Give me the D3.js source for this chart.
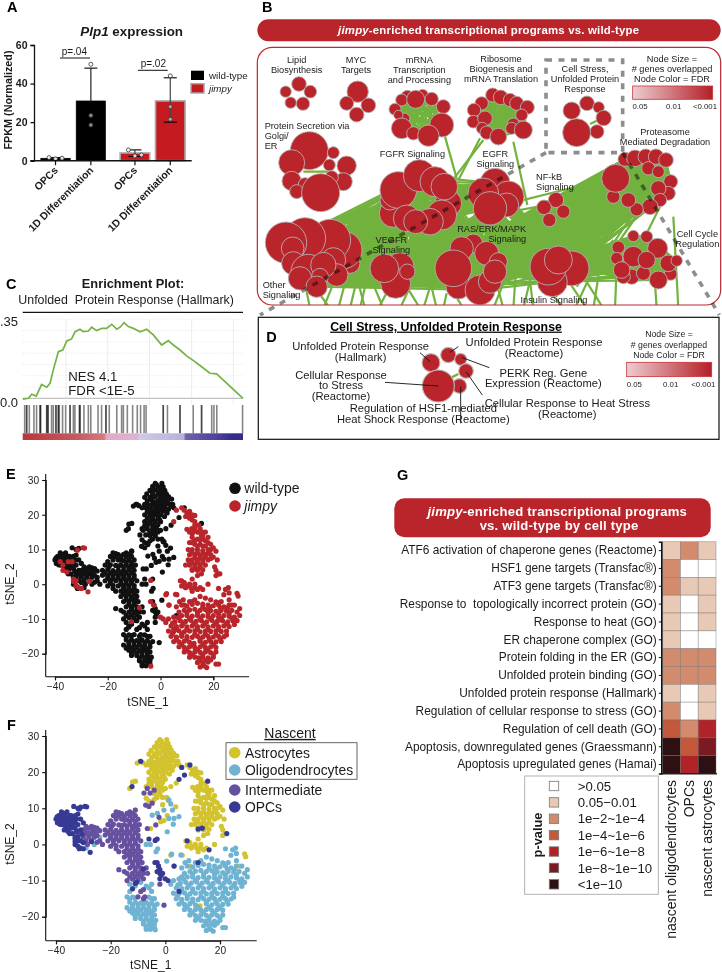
<!DOCTYPE html>
<html>
<head>
<meta charset="utf-8">
<script src="https://cdn.jsdelivr.net/npm/d3@7"></script>
<style>
  html, body { margin: 0; padding: 0; background: #fff; }
  svg { display: block; }
  text { font-family: "Liberation Sans", Arial, sans-serif; fill: #1a1a1a; white-space: pre; }
  .axis path, .axis line { stroke: #111; }
</style>
</head>
<body>
<div id="chart"></div>
<script>
// ---------- A: Plp1 bars ----------
const genotypes = ['wild-type', 'jimpy'];
const conditions = ['OPCs', '1D Differentiation'];
const fpkmMeans = [[1.3, 31], [4, 31]];
const fpkmErrLow = [[1, 31], [2.2, 20]];
const fpkmErrHigh = [[1.6, 48], [5.6, 43]];
const fpkmDots = [[[1.6, 1, 1.3], [50, 23.5, 18.5]], [[5.6, 2.5, 3], [44, 28, 21.5]]];

// ---------- C: enrichment curve ----------
const esRank = [0, 2.6, 4.1, 6.1, 8.6, 10.9, 12.4, 13.9, 16.2, 18.2, 20, 22.2, 23.8, 26, 27.5, 29.8, 31.3, 33.6, 35.9, 38.1, 40.4, 42.7, 44.2, 46, 48, 50.2, 53.3, 56.3, 59.3, 63.1, 66.1, 68.4, 71.4, 74.4, 77.5, 81.2, 85, 88, 91.1, 95.6, 100];
const esValue = [-0.004, 0, 0.018, 0.01, 0.061, 0.049, 0.066, 0.126, 0.207, 0.214, 0.254, 0.263, 0.295, 0.306, 0.295, 0.298, 0.315, 0.3, 0.31, 0.31, 0.328, 0.306, 0.315, 0.335, 0.318, 0.31, 0.295, 0.306, 0.281, 0.236, 0.256, 0.236, 0.214, 0.188, 0.167, 0.14, 0.111, 0.108, 0.081, 0.04, 0];
const rugRanks = [0.9, 1.8, 1.8, 3, 5.1, 6.3, 7.9, 7.9, 8.2, 10.9, 10.9, 11.5, 11.5, 13.1, 13.9, 15.1, 15.1, 16.2, 16.2, 16.6, 18.1, 19.5, 21.5, 21.5, 23, 23.7, 25.7, 26, 26, 27.8, 29.8, 30.9, 34.2, 35.8, 37.8, 37.8, 39.3, 42.7, 44.9, 45.7, 47.5, 49.9, 52, 53.5, 55.1, 56, 63.8, 63.8, 65.7, 71.4, 71.4, 77.4, 81.2, 81.2, 85.8, 86.8, 88.1, 99.8];
const esGridRanks = [19.7, 38.6, 57.6, 76.7, 95.6];
const rankStops = [0, 12, 25, 37, 38, 52, 53, 73, 74, 90, 95, 100];
const rankColors = ['#b8363c', '#c0474d', '#c55a60', '#d57c7d', '#e2a9c6', '#dfb2d2', '#d0c9e8', '#b9b0d9', '#6e63ae', '#473b98', '#352b8d', '#352b8d'];

// ---------- B: network map, [x, y, size] ----------
const nodesLipid = [[147, 252, 22], [107, 275, 17], [181, 275, 19], [122, 308, 17], [159, 311, 20]];
const nodesMyc = [[323, 275, 32], [290, 310, 21], [355, 316, 22], [320, 344, 22]];
const nodesMrna = [[472, 290, 19], [455, 300, 18], [518, 285, 17], [545, 297, 20], [497, 298, 27], [435, 328, 18], [580, 320, 21], [462, 357, 18], [445, 345, 14], [575, 375, 36], [455, 385, 31], [490, 400, 20], [535, 407, 32]];
const nodesRibosome = [[728, 285, 21], [752, 292, 22], [695, 310, 20], [672, 330, 20], [780, 300, 20], [800, 310, 21], [832, 322, 21], [815, 345, 18], [670, 365, 19], [705, 355, 22], [697, 385, 18], [710, 398, 20], [745, 410, 25], [790, 372, 18], [785, 385, 18], [820, 390, 27]];
const nodesStress = [[1011, 310, 22], [965, 332, 26], [1046, 322, 17], [1061, 354, 23], [1041, 395, 21], [980, 398, 42]];
const nodesSecretion = [[178, 452, 57], [250, 458, 18], [125, 488, 39], [290, 497, 29], [238, 495, 18], [280, 545, 27], [125, 543, 29], [165, 553, 20], [245, 532, 20], [140, 575, 21], [212, 578, 57]];
const nodesFgfr = [[430, 640, 42], [420, 600, 30], [445, 570, 55], [508, 527, 48], [555, 545, 45], [595, 610, 40], [575, 645, 45], [470, 655, 40], [540, 665, 40], [497, 665, 36], [583, 560, 40]];
const nodesEgfr = [[735, 550, 45], [775, 590, 47], [700, 580, 46], [770, 615, 36], [720, 625, 50]];
const nodesNfkb = [[918, 600, 23], [882, 622, 22], [940, 635, 20], [898, 660, 20]];
const nodesProteasome = [[1125, 478, 21], [1155, 475, 25], [1187, 470, 23], [1218, 470, 23], [1248, 480, 22], [1195, 505, 20], [1225, 515, 18], [1262, 545, 21], [1255, 580, 21], [1225, 565, 23], [1230, 600, 20], [1200, 620, 24], [1160, 628, 20], [1135, 600, 22], [1090, 590, 20], [1097, 535, 42]];
const nodesCycle = [[1150, 708, 17], [1190, 710, 18], [1105, 742, 19], [1100, 775, 18], [1262, 822, 19], [1255, 790, 25], [1280, 782, 17], [1150, 770, 31], [1145, 830, 23], [1180, 820, 21], [1225, 840, 27], [1120, 830, 21], [1115, 810, 25], [1223, 745, 30], [1190, 780, 26]];
const nodesOther = [[300, 790, 30], [280, 750, 56], [240, 720, 62], [165, 715, 62], [108, 728, 62], [128, 745, 34], [250, 780, 37], [260, 825, 34], [130, 790, 35], [175, 815, 52], [220, 795, 38], [150, 835, 35], [210, 830, 25], [200, 860, 32]];
const nodesVegfr = [[450, 800, 42], [437, 850, 45], [403, 805, 43], [472, 815, 23]];
const nodesRas = [[670, 730, 28], [635, 745, 35], [710, 760, 36], [745, 785, 27], [625, 860, 37], [690, 870, 45], [720, 845, 35], [735, 815, 35], [610, 805, 55]];
const nodesInsulin = [[965, 805, 52], [907, 845, 45], [895, 800, 55], [925, 780, 42]];

const mapClusters = { Lipid: nodesLipid, Myc: nodesMyc, Mrna: nodesMrna, Ribosome: nodesRibosome, Stress: nodesStress, Secretion: nodesSecretion, Fgfr: nodesFgfr, Egfr: nodesEgfr, Nfkb: nodesNfkb, Proteasome: nodesProteasome, Cycle: nodesCycle, Other: nodesOther, Vegfr: nodesVegfr, Ras: nodesRas, Insulin: nodesInsulin };
const clusterLinks = [['Fgfr', 'Other'], ['Fgfr', 'Vegfr'], ['Fgfr', 'Ras'], ['Fgfr', 'Egfr'], ['Egfr', 'Ras'], ['Egfr', 'Vegfr'], ['Egfr', 'Insulin'], ['Other', 'Vegfr'], ['Vegfr', 'Ras'], ['Ras', 'Insulin'], ['Other', 'Ras'], ['Proteasome', 'Insulin'], ['Proteasome', 'Ras'], ['Nfkb', 'Proteasome'], ['Nfkb', 'Ras'], ['Nfkb', 'Insulin'], ['Insulin', 'Cycle']];
const ringClusters = ['Mrna', 'Ribosome', 'Fgfr', 'Egfr', 'Proteasome', 'Cycle', 'Other', 'Vegfr', 'Ras', 'Insulin'];
const singleEdges = [[585, 410, 620, 535], [700, 420, 612, 535], [690, 415, 625, 540], [790, 425, 832, 615], [160, 515, 240, 515], [1020, 372, 1045, 360], [720, 625, 1060, 540], [760, 640, 1070, 580], [1270, 650, 1285, 925], [1215, 850, 1220, 925], [1100, 800, 1095, 925], [1180, 620, 1110, 720], [1230, 620, 1180, 720], [1090, 610, 960, 760], [1100, 620, 985, 770], [1125, 630, 1000, 800], [1150, 640, 1030, 820], [950, 650, 1000, 770], [980, 860, 1090, 720]];
const bottomEdges = [[165, 850, 180, 925], [200, 870, 240, 925], [250, 850, 220, 925], [290, 830, 265, 925], [310, 790, 345, 925], [330, 800, 300, 925], [360, 830, 400, 925], [350, 840, 330, 925], [420, 860, 385, 925], [470, 860, 510, 925], [490, 840, 450, 925], [530, 800, 560, 925], [550, 830, 520, 925], [590, 880, 580, 925], [600, 860, 640, 925], [740, 850, 760, 925], [760, 850, 730, 925], [800, 780, 790, 925], [830, 760, 850, 925], [850, 800, 820, 925], [905, 880, 940, 925], [960, 850, 1010, 925], [1000, 830, 1060, 925], [1010, 850, 975, 925], [1050, 800, 1030, 925]];

// ---------- D: cell stress close-up ----------
const nodesDetail = [[543, 188, 27], [595, 165, 23], [632, 178, 18], [648, 213, 22], [628, 258, 22], [565, 258, 48]];
const detailLeaders = [[510, 158, 540, 185], [625, 140, 600, 157], [718, 203, 637, 173], [405, 247, 565, 258], [697, 285, 648, 215], [632, 260, 632, 370]];

// ---------- E / F: tSNE points, split by cell type and genotype ----------
const wtAstro = [[-2, 29], [0.5, 29], [1, 28], [-3, 28.2], [-1, 28], [-4, 27], [-2, 27.1], [0, 26.8], [1.6, 27], [-3, 26], [-1, 25.9], [0.5, 26], [2.2, 26], [-5.2, 26], [-4, 25], [-2, 25.1], [0, 24.9], [1.5, 25], [3, 25.2], [-5, 24], [-3, 23.9], [-1, 24], [1, 24.1], [2.6, 24], [4.2, 24.5], [4.6, 23], [-6, 25], [-5, 23], [-3, 22.9], [-1, 23], [0.5, 22.9], [2, 23], [3.6, 23], [-9.3, 23], [-10.3, 22.5], [-7, 22], [-4, 22], [-2, 22.1], [0, 21.9], [1.6, 22], [3, 21.6], [5, 22], [-5, 21], [-3, 20.9], [-1, 21], [1, 21], [2.5, 20.5], [-6, 20], [-4, 20], [-2, 20.1], [0, 20], [-5, 19], [-3, 18.9], [-1, 19], [1.5, 19.5], [-6, 18], [-4, 18.1], [-2, 18], [0, 18], [-5, 17], [-3, 17], [-1, 17.1], [-7, 16], [-5, 16], [-3, 16], [-1.5, 16], [-12, 17.3], [-10.9, 17.5], [-13, 15.5], [-2, 15], [0, 15.5], [2, 16], [4, 17], [-4, 14], [-2, 14], [-3, 13], [-1, 13], [0.5, 13], [1, 12.2], [-4.8, 11.8], [-6, 12], [-10.9, 9.5], [3.8, 10.4], [0.7, 8], [-1.7, 6.3], [-0.5, 6.6], [-5.4, 4.4], [-4, 12.5], [-7, 12.8], [-1, 11]];
const wtAstroFill = [[-1.5, 28.6], [-2.8, 25.5], [-0.6, 26.6], [1, 25.6], [-3.6, 24.5], [-1.8, 23.5], [0, 23.6], [2.8, 24.6], [-4, 22.6], [-2.4, 21.5], [0.4, 21.4], [2.2, 21.2], [-4.2, 20.6], [-1.2, 20], [-3.2, 19.5], [-0.4, 18.6], [-4.6, 17.6], [-2.4, 16.6], [-6, 16.8], [-8.2, 22.6], [-6, 23], [4, 22.5], [-2.9, 14.6], [-1, 15], [-3.6, 18.4], [-0.6, 22.3], [1.2, 23], [-5.6, 22], [-3, 27.4], [0.2, 27.8]];
const koAstro = [[8, 22], [9, 21.3], [10, 20.5], [11, 21], [12, 20], [13, 19.8], [9.5, 19.5], [11, 19], [12, 18.5], [13, 18], [14.5, 17], [10, 15.8], [11, 15], [12, 14.5], [13, 16], [14, 15], [15, 16], [16, 15], [17, 15], [15.5, 14], [12, 13.5], [14, 13], [16, 13], [18, 13.5], [17, 12.5], [11, 12], [13, 11.5], [15, 11.5], [17, 11], [19, 11.5], [20, 10.5], [10.5, 10], [12, 10], [14, 10], [16, 9.7], [18, 10], [21, 9.5], [11, 8.5], [13, 8.5], [15, 8.3], [17, 8.5], [19, 8.5], [20, 7.8], [10.5, 7], [12, 7], [14, 7], [16, 7], [18, 7], [9.5, 5.5], [11, 5.5], [13, 5.5], [15, 5.5], [17, 5.5], [12, 4], [14, 4], [16, 4.2], [20.5, 5], [21, 4], [21, 2.5], [22, 3], [14, 2.5], [15.5, 3], [7.5, 1], [12, 1.5], [8, -0.5], [9, 0.5], [10, -0.5], [11, 0], [11.5, -1], [12, -2], [13, -1], [14, -1.5], [15, -1], [18, 0], [2, -3], [6.2, -3], [9, -6], [21.5, -5.3], [18.4, -7], [12.7, -17], [29.4, -3.4], [29, -2.6], [27, -6]];
const koAstroFill = [[10.6, 20], [11.6, 19.6], [13, 17], [11.8, 16], [12.5, 15.2], [14.8, 15], [16, 14], [13, 12.6], [15, 12.8], [12, 12], [14, 11], [16, 11], [18, 12], [12, 9], [14, 9], [16, 8.8], [18, 9], [13, 7.6], [15, 7.6], [17, 7.8], [19, 7.4], [12, 6.2], [14, 6.2], [16, 6.2], [11, 6.5], [13, 4.8], [15, 4.8], [19, 10], [21.5, 7], [9.5, -1], [13, 0]];
const wtOligo = [[1.3, 12.3], [2, 11.2], [2.6, 9.5], [-0.5, 9.5], [-4.8, 8.1], [-2.9, 8.6], [5, 7.7], [3.2, 7.2], [1.3, 7.2], [2.9, 5.6], [0.7, 3.5], [0.5, -4.6], [-7, 0], [-5.5, 0], [-3.4, -2], [-2.8, -1.2], [6, -9], [-13, -11], [-11, -11.5], [-7, -11.5], [-5, -11], [-13, -13], [-5, -13], [-14, -14.5], [-12, -14.6], [-6, -14.6], [-4, -15], [-13, -16], [-11, -16], [-9, -16.2], [-7, -16], [-5, -16.2], [-3, -16.5], [-14, -17.5], [-12, -17.6], [-10, -17.5], [-8, -17.4], [-6, -17.6], [-4, -18], [-12, -19], [-10, -19], [-8, -19.2], [-6, -19], [-4, -19.5], [-11, -20.5], [-9, -20.5], [-7, -20.6], [-5, -20.8], [-8, -22], [-6, -22], [-4, -22], [-7, -23.5], [-5.5, -23.5], [-4, -23], [-3.5, -21], [-9, -10.5], [-32, -0.5], [-29, -1], [-26, 0], [-24, 2]];
const wtOligoFill = [[-12, -12.2], [-6, -12], [-13, -15.2], [-11, -14.8], [-5, -15], [-12, -16.8], [-10, -16.6], [-8, -16.4], [-6, -16.8], [-4, -17], [-13, -18.4], [-11, -18.4], [-9, -18.2], [-7, -18.3], [-5, -18.6], [-11, -19.8], [-9, -19.9], [-7, -19.7], [-5, -20], [-8, -21.2], [-6, -21.2], [-4.5, -21.6], [-7, -22.8], [-5, -22.8]];
const koOligo = [[15, -3.5], [17, -4], [13, -4.5], [19, -4.5], [24, -3], [26, -2.5], [24.6, -1.5], [25.7, -1], [22, -1.2], [26, -4.5], [23, -5], [21, -5.1], [7.2, -5], [5.7, -2.9], [2.3, -2.7], [3.2, -6], [6, -6.5], [8, -6], [10, -6.3], [12, -5.8], [14, -5.5], [16, -5.7], [18, -6], [20, -6.2], [22, -6], [24, -6.5], [26, -6], [28, -6], [30, -7], [7, -8], [9, -7.5], [11, -7.4], [13, -7.2], [15, -7.5], [17, -7.3], [19, -7.6], [21, -7.8], [23, -7.5], [25, -7.7], [27, -7.5], [29, -8], [30, -9], [5, -9.5], [8, -9], [10, -9], [12, -9.2], [14, -9], [16, -9.1], [18, -9.3], [20, -9], [22, -9.4], [24, -9], [26, -9.2], [28, -9.5], [3, -10], [5.5, -10.8], [7.5, -10.5], [9.5, -10.7], [11.5, -10.4], [13.5, -10.7], [15.5, -10.5], [17.5, -10.8], [19.5, -10.4], [21.5, -10.7], [23.5, -10.5], [25.5, -10.8], [27.5, -10.6], [29, -10.5], [2, -11], [4, -12], [6, -12.2], [8, -12], [10, -12.3], [12, -12], [14, -12.2], [16, -12], [18, -12.3], [20, -12], [22, -12.2], [24, -12], [26, -12.2], [3, -13.5], [5, -13.6], [7, -13.4], [9, -13.7], [11, -13.5], [13, -13.4], [15, -13.7], [17, -13.5], [19, -13.6], [21, -13.4], [23, -13.6], [25, -13.5], [4, -15], [6, -15.2], [8, -15], [10, -15.1], [12, -15.3], [14, -15], [16, -15.2], [18, -15], [20, -15.2], [22, -15], [24, -15.1], [5, -16.5], [7, -16.6], [9, -16.4], [11, -16.7], [15, -16.4], [17, -16.7], [19, -16.5], [21, -16.6], [23, -16.5], [7, -18], [9, -18.2], [11, -18], [13, -18.2], [15, -18], [17, -18.2], [19, -18], [21, -18.2], [9, -19.5], [11, -19.7], [13, -19.5], [15, -19.6], [17, -19.5], [19, -19.7], [21, -19.5], [11, -21], [13, -21], [14.5, -21.2], [16, -21], [18, -21.2], [20, -21], [14, -22.5], [16, -22.6], [18, -22.4], [21, -23], [22, -23], [15, -23.8], [17.5, -24], [-3.7, -23.6]];
const koOligoFill = [[8.6, -4.5], [11, -5], [16, -6.6], [18.6, -6.6], [22.7, -6.9], [25.4, -6.8], [10, -8.2], [14, -8.2], [18, -8.3], [22, -8.4], [26, -8.4], [6.6, -9.6], [11, -9.9], [15, -9.9], [19, -9.9], [23, -10], [27, -9.8], [4.6, -11.2], [8.6, -11.3], [12.6, -11.4], [16.7, -11.4], [20.8, -11.3], [25, -11.4], [28, -11.6], [6, -13], [10, -13], [14, -13], [18, -13], [22, -13], [4.5, -14.3], [8, -14.3], [13, -14.4], [17, -14.4], [21, -14.4], [25, -14.6], [6, -15.9], [10, -15.8], [15, -15.9], [18.5, -15.9], [22.6, -15.8], [8, -17.3], [12, -17.4], [16, -17.4], [20, -17.4], [10, -18.9], [14, -18.8], [18, -18.9], [12, -20.3], [16, -20.3], [20, -20.3], [15, -22], [17, -22], [19, -21.8], [16.5, -23.5]];
const wtInter = [[-18, 9], [-16, 8.5], [-11, 9.5], [-13, 9], [-19, 8], [-17, 8], [-15, 7.8], [-13, 8], [-11, 8], [-20, 6.5], [-18, 7], [-16, 7], [-14, 6.8], [-12, 7], [-10, 7], [-21, 5.5], [-19, 5.6], [-17, 5.4], [-15, 5.5], [-13, 5.6], [-11, 5.5], [-9.5, 5.5], [-22, 4], [-20, 4.2], [-18, 3.9], [-16, 4.1], [-14, 4], [-12, 4.2], [-10, 4], [-22, 2.6], [-20, 2.5], [-18, 2.4], [-16, 2.6], [-14, 2.5], [-12, 2.4], [-10, 2.6], [-21, 1], [-19, 1.1], [-17, 1], [-15, 0.9], [-13, 1], [-11, 1.1], [-9, 1], [-20, -0.5], [-18, -0.3], [-16, -0.5], [-14, -0.4], [-12, -0.5], [-10, -0.4], [-17, -2], [-15, -2], [-13, -2], [-11, -1.9], [-9, -2], [-15, -3.5], [-13, -3.4], [-11, -3.6], [-9, -3.5], [-14, -5], [-12, -5], [-10, -5.1], [-8.5, -5], [-13, -6.5], [-11, -6.6], [-9, -6.5], [-7, -6.5], [-17, -7], [-15, -7.5], [-14, -8], [-12, -8], [-10, -8.2], [-8, -8], [-6.5, -8], [-14, -10], [-12, -9.6], [-10, -9.8], [-8, -9.5], [-9, -13], [-7.5, -14.5], [-10, -14.5], [-8, -15], [-6.6, 15.5], [-7.8, 14.2], [-5.6, 14.2], [-4.1, 15], [-6, 10.5], [-7.2, 10.9], [-2.3, 7.5], [-6.6, 4.4], [-3.5, 5.4], [-4.8, 11.4], [-30, 4], [-29, 5], [-28, 4.5], [-27, 5], [-26, 4.7], [-25, 4.5], [-29, 3], [-28, 2], [-27, 3], [-26, 2], [-30, 2], [-29, 1], [-27, 1], [-25, 2.5], [-24, 1], [-23, 0], [-8, -12.5], [-2, -11], [-0.5, -16.8]];
const wtInterFill = [[-17, 8.8], [-14, 8.6], [-12, 8.5], [-18, 7.6], [-15, 6.9], [-13, 6.4], [-11, 6.4], [-19.6, 5], [-16, 5.2], [-14, 5], [-12, 4.9], [-10.5, 4.8], [-21, 3.3], [-19, 3.2], [-17, 3.2], [-15, 3.2], [-13, 3.3], [-11, 3.3], [-20, 1.8], [-18, 1.7], [-16, 1.8], [-14, 1.7], [-12, 1.7], [-10, 1.8], [-19, 0.3], [-15, 0.2], [-13, 0.2], [-11, 0.3], [-18, -1.2], [-14, -1.2], [-12, -1.1], [-10, -1.2], [-14, -2.8], [-12, -2.7], [-10, -2.8], [-13, -4.3], [-11, -4.3], [-9.5, -4.3], [-12, -5.8], [-10, -5.8], [-11, -7.3], [-9, -7.4], [-13, -9], [-11, -8.9], [-9, -8.8], [-32, 3], [-29.5, 4], [-28, 3.2], [-26.5, 3.8], [-25.6, 3.3], [-24, 3.8], [-28.5, 0], [-25, 0.6]];
const wtOpc = [[-40, 7], [-39.5, 6], [-39, 8], [-38.5, 6.5], [-38, 9], [-38, 5.5], [-37.5, 7.5], [-37, 6], [-37, 8.5], [-36.5, 5], [-36, 7], [-36, 9], [-35, 6], [-35, 8], [-34.5, 4.5], [-34, 7], [-39, 7], [-38, 7], [-33, 6], [-33, 8], [-33, 4.5], [-32, 10], [-33.5, 10.5], [-31, 10.3], [-32, 5.5], [-31, 7], [-31, 4], [-30, 6], [-34, 3], [-32, 2], [-36, 4], [-31, 1], [-33, 0], [-30, 0.5], [-3, -5], [-2.5, -6], [-2, -7], [-2, -8], [-1.5, -8.5], [-1, -8], [-3, -7.5], [-10.5, -10.5], [-12, -12.3], [-12.2, 16], [-9, 23], [-6, 1.5], [-3, 1.5], [-2, -9.5], [9, 22], [7, 19.2], [15.5, 17.5]];
const wtOpcFill = [[-39.6, 7.6], [-38.6, 7.6], [-38.6, 5.6], [-37.6, 8.6], [-37.6, 6.6], [-36.6, 7.8], [-36.5, 6], [-35.6, 7], [-35.5, 5], [-34.5, 8], [-34.5, 6], [-34, 5], [-33.5, 7.2], [-32.5, 7], [-32, 8.4], [-32.5, 3.6], [-35, 3], [-33, 2], [-30.5, 2.8], [-31.5, -1.2]];
const koOpc = [[-29.4, 10.5], [-28.8, 10.4], [-38, 6.5], [-37, 5.5], [-35, 6.5], [-33.5, 6.5], [-37, 4], [-35.5, 3.5], [-33, 1.5], [-32, 1], [-32, -0.5], [-31, -1], [-30, -1.2], [-27.5, -2.2], [-27, 0.8], [-33, 0.8], [-31.5, 9.8], [-3.7, 1.1], [-3.8, -5], [-2.5, -6], [-8, -6.8], [-11, -10.8], [5, 18], [6, 21.3], [3.2, -6], [12, 4.3], [13.5, 4.5], [8, 1], [16, -1.5], [22.5, 3], [12, -5], [5, -13], [1, -10], [0, -9.5]];

const eLegend = ['wild-type', 'jimpy'];
const fLegend = ['Astrocytes', 'Oligodendrocytes', 'Intermediate', 'OPCs'];
const tsneTicksX = [-40, -20, 0, 20];
const tsneTicksY = [-20, -10, 0, 10, 20, 30];

// ---------- G: heatmap ----------
const programs = ['ATF6 activation of chaperone genes (Reactome)', 'HSF1 gene targets (Transfac®)', 'ATF3 gene targets (Transfac®)', 'Response to  topologically incorrect protein (GO)', 'Response to heat (GO)', 'ER chaperone complex (GO)', 'Protein folding in the ER (GO)', 'Unfolded protein binding (GO)', 'Unfolded protein response (Hallmark)', 'Regulation of cellular response to stress (GO)', 'Regulation of cell death (GO)', 'Apoptosis, downregulated genes (Graessmann)', 'Apoptosis upregulated genes (Hamai)'];
const cellTypes = ['nascent oligodendrocytes', 'OPCs', 'nascent astrocytes'];
const pLevels = [[1, 2, 1], [2, 0, 0], [2, 1, 1], [1, 0, 1], [1, 0, 1], [1, 0, 0], [2, 2, 2], [2, 2, 2], [1, 0, 1], [2, 0, 1], [3, 2, 4], [6, 3, 5], [6, 4, 6]];
const pLabels = ['>0.05', '0.05−0.01', '1e−2~1e−4', '1e−4~1e−6', '1e−6~1e−8', '1e−8~1e−10', '<1e−10'];
const pColors = ['#ffffff', '#e8c9b5', '#d38b6d', '#c4583a', '#b02329', '#7b1a20', '#2e1013'];

const RED = '#b9252b';
const svg = d3.select('#chart').append('svg').attr('width', 722).attr('height', 972);

// plain text helper, lines are stacked from y down
function txt(parent, lines, x, y, size, opts = {}) {
    const list = Array.isArray(lines) ? lines : [lines];
    const step = opts.step || size * 1.15;
    const t = parent.append('g');
    list.forEach((line, i) => {
        t.append('text')
            .attr('x', x).attr('y', y + i * step).attr('dy', '.35em')
            .attr('text-anchor', opts.anchor || 'middle')
            .attr('font-size', size)
            .attr('font-weight', opts.bold ? 'bold' : null)
            .attr('font-style', opts.italic ? 'italic' : null)
            .attr('text-decoration', opts.underline ? 'underline' : null)
            .style('fill', opts.color || null)
            .text(line);
    });
    return t;
}

function panelLetter(letter, x, y) {
    txt(svg, letter, x, y, 14.5, { bold: true, anchor: 'start', color: '#000' });
}

function styleAxis(sel, width) {
    sel.attr('class', 'axis');
    sel.selectAll('path, line').attr('stroke-width', width).attr('stroke', '#111');
}

// ---------- Panel A ----------
panelLetter('A', 7, 7);
const aY = d3.scaleLinear().domain([0, 60]).range([160.7, 45]);
const aGroup = d3.scalePoint().domain(genotypes).range([73.2, 152.6]);
const aBar = d3.scaleBand().domain(conditions).range([-34.2, 34.2]).paddingInner(0.165).paddingOuter(0.05);
const aFill = d3.scaleOrdinal().domain(genotypes).range(['#000000', '#c51a20']);
const aStroke = d3.scaleOrdinal().domain(genotypes).range(['#000000', '#a8a8a8']);

const aTitle = svg.append('text').attr('x', 131.7).attr('y', 36).attr('text-anchor', 'middle').attr('font-size', 13.4).attr('font-weight', 'bold');
aTitle.append('tspan').attr('font-style', 'italic').text('Plp1');
aTitle.append('tspan').text(' expression');

genotypes.forEach((geno, gi) => {
    conditions.forEach((cond, ci) => {
        const x0 = aGroup(geno) + aBar(cond);
        const w = aBar.bandwidth();
        const cx = x0 + w / 2;
        svg.append('rect').attr('x', x0).attr('y', aY(fpkmMeans[gi][ci])).attr('width', w)
            .attr('height', aY(0) - aY(fpkmMeans[gi][ci]))
            .attr('fill', aFill(geno)).attr('stroke', aStroke(geno)).attr('stroke-width', gi ? 1.6 : 0.5);
        const hi = aY(fpkmErrHigh[gi][ci]);
        const lo = aY(fpkmErrLow[gi][ci]);
        const errColor = gi ? '#444' : '#222';
        svg.append('line').attr('x1', cx).attr('x2', cx).attr('y1', hi).attr('y2', lo).attr('stroke', errColor).attr('stroke-width', 1.2);
        svg.append('line').attr('x1', cx - 6.5).attr('x2', cx + 6.5).attr('y1', hi).attr('y2', hi).attr('stroke', '#000').attr('stroke-width', 1.1);
        if (gi) svg.append('line').attr('x1', cx - 6.5).attr('x2', cx + 6.5).attr('y1', lo).attr('y2', lo).attr('stroke', '#000').attr('stroke-width', 1.1);
        fpkmDots[gi][ci].forEach((v, di) => {
            const spread = ci === 0 ? [-6.5, 0, 6.5][di] : 0;
            svg.append('circle').attr('cx', cx + spread).attr('cy', aY(v)).attr('r', 2)
                .attr('fill', '#fff').attr('fill-opacity', v < 30 && ci === 1 ? 0.55 : 0.85).attr('stroke', '#333').attr('stroke-width', 0.8);
        });
    });
});
const aAxisY = svg.append('g').attr('transform', 'translate(34,0)').call(d3.axisLeft(aY).tickValues([0, 20, 40, 60]).tickSize(3.5));
styleAxis(aAxisY, 1.3);
aAxisY.selectAll('text').attr('font-size', 10.5).attr('font-weight', 'bold').attr('font-family', 'Liberation Sans');
svg.append('line').attr('x1', 30.5).attr('x2', 191.7).attr('y1', aY(0)).attr('y2', aY(0)).attr('stroke', '#111').attr('stroke-width', 1.4);
genotypes.forEach(geno => conditions.forEach(cond => {
    const cx = aGroup(geno) + aBar(cond) + aBar.bandwidth() / 2;
    svg.append('line').attr('x1', cx).attr('x2', cx).attr('y1', aY(0)).attr('y2', aY(0) + 4.5).attr('stroke', '#111').attr('stroke-width', 1.2);
    svg.append('text').attr('transform', `translate(${cx + 3},171) rotate(-45)`).attr('text-anchor', 'end')
        .attr('font-size', 10.4).attr('font-weight', 'bold').text(cond);
}));
svg.append('text').attr('transform', 'translate(8,100) rotate(-90)').attr('text-anchor', 'middle').attr('dy', '.35em')
    .attr('font-size', 10.8).attr('font-weight', 'bold').text('FPKM (Normalized)');
txt(svg, 'p=.04', 74.3, 51.5, 10);
svg.append('line').attr('x1', 60).attr('x2', 90).attr('y1', 58).attr('y2', 58).attr('stroke', '#111');
txt(svg, 'p=.02', 153.3, 63.5, 10);
svg.append('line').attr('x1', 138).attr('x2', 167.7).attr('y1', 70.3).attr('y2', 70.3).attr('stroke', '#111');
genotypes.forEach((geno, i) => {
    const y = 70.7 + i * 13;
    svg.append('rect').attr('x', 191).attr('y', y).attr('width', 13).attr('height', 9.3)
        .attr('fill', aFill(geno)).attr('stroke', aStroke(geno)).attr('stroke-width', i ? 1.5 : 0);
    txt(svg, geno, 209, y + 5, 9.8, { anchor: 'start', italic: i === 1 });
});

// ---------- Panel B: network map ----------
panelLetter('B', 262, 7);
const mapX = d3.scaleLinear().domain([0, 1416]).range([250, 722]);
const mapY = d3.scaleLinear().domain([0, 930]).range([0, 310]);
const mapR = d3.scaleLinear().domain([0, 100]).range([0, 33.33]);

svg.append('rect').attr('x', mapX(22)).attr('y', mapY(58)).attr('width', mapX(1412) - mapX(22)).attr('height', mapY(124) - mapY(58))
    .attr('rx', 11).attr('fill', RED);
const bHead = svg.append('text').attr('x', mapX(716)).attr('y', mapY(90)).attr('dy', '.35em').attr('text-anchor', 'middle')
    .attr('font-size', 11.4).attr('font-weight', 'bold').attr('letter-spacing', 0.2).style('fill', '#fff');
bHead.append('tspan').attr('font-style', 'italic').text('jimpy');
bHead.append('tspan').text('-enriched transcriptional programs vs. wild-type');

svg.append('clipPath').attr('id', 'mapClip').append('rect')
    .attr('x', mapX(22)).attr('y', mapY(142)).attr('width', mapX(1412) - mapX(22)).attr('height', mapY(915) - mapY(142)).attr('rx', 15);

const mapG = svg.append('g').attr('clip-path', 'url(#mapClip)');
const edgeG = mapG.append('g').attr('stroke', '#72b23e').attr('stroke-width', 2.2);

function drawEdge(x1, y1, x2, y2) {
    edgeG.append('line').attr('x1', mapX(x1)).attr('y1', mapY(y1)).attr('x2', mapX(x2)).attr('y2', mapY(y2));
}
clusterLinks.forEach(([a, b]) => {
    mapClusters[a].forEach(n => mapClusters[b].forEach(m => drawEdge(n[0], n[1], m[0], m[1])));
});
ringClusters.forEach(name => {
    mapClusters[name].forEach((n, i) => mapClusters[name].slice(i + 1).forEach(m => drawEdge(n[0], n[1], m[0], m[1])));
});
singleEdges.concat(bottomEdges).forEach(e => drawEdge(e[0], e[1], e[2], e[3]));

Object.values(mapClusters).forEach(nodes => {
    mapG.append('g').selectAll('circle').data(nodes).enter().append('circle')
        .attr('cx', d => mapX(d[0])).attr('cy', d => mapY(d[1])).attr('r', d => mapR(d[2]))
        .attr('fill', RED).attr('stroke', '#b5b0b0').attr('stroke-width', 0.9);
});

svg.append('rect').attr('x', mapX(22)).attr('y', mapY(142)).attr('width', mapX(1412) - mapX(22)).attr('height', mapY(915) - mapY(142))
    .attr('rx', 15).attr('fill', 'none').attr('stroke', '#be2a30').attr('stroke-width', 1.2);

// dashed callout going down to panel D
const dash = svg.append('g').attr('fill', 'none').attr('stroke', '#8d8d8d').attr('stroke-width', 3.6)
    .attr('stroke-dasharray', '6,6.5').style('mix-blend-mode', 'multiply');
dash.append('rect').attr('x', mapX(888)).attr('y', mapY(180)).attr('width', mapX(1118) - mapX(888)).attr('height', mapY(458) - mapY(180));
dash.append('line').attr('x1', mapX(888)).attr('y1', mapY(458)).attr('x2', mapX(30)).attr('y2', mapY(945));
dash.append('line').attr('x1', mapX(1118)).attr('y1', mapY(458)).attr('x2', mapX(1408)).attr('y2', mapY(945));

const bSize = 9.2;
const bStep = 10;
txt(svg, ['Lipid', 'Biosynthesis'], mapX(140), mapY(178), bSize, { step: bStep });
txt(svg, ['MYC', 'Targets'], mapX(318), mapY(178), bSize, { step: bStep });
txt(svg, ['mRNA', 'Transcription', 'and Processing'], mapX(508), mapY(178), bSize, { step: bStep });
txt(svg, ['Ribosome', 'Biogenesis and', 'mRNA Translation'], mapX(753), mapY(177), bSize, { step: bStep });
txt(svg, ['Cell Stress,', 'Unfolded Protein', 'Response'], mapX(1005), mapY(206), bSize, { step: bStep });
txt(svg, ['Node Size =', '# genes overlapped', 'Node Color = FDR'], mapX(1266), mapY(177), bSize, { step: bStep });
txt(svg, ['Protein Secretion via', 'Golgi/', 'ER'], mapX(44), mapY(378), bSize, { step: bStep, anchor: 'start' });
txt(svg, 'FGFR Signaling', mapX(487), mapY(461), bSize);
txt(svg, ['EGFR', 'Signaling'], mapX(736), mapY(461), bSize, { step: bStep });
txt(svg, ['NF-kB', 'Signaling'], mapX(858), mapY(530), bSize, { step: bStep, anchor: 'start' });
txt(svg, ['Proteasome'], mapX(1245), mapY(396), bSize);
txt(svg, ['Mediated Degradation'], mapX(1245), mapY(426), bSize);
txt(svg, 'RAS/ERK/MAPK', mapX(725), mapY(686), bSize);
txt(svg, 'Signaling', mapX(772), mapY(716), bSize);
txt(svg, ['VEGFR', 'Signaling'], mapX(424), mapY(718), bSize, { step: bStep });
txt(svg, ['Cell Cycle', 'Regulation'], mapX(1342), mapY(702), bSize, { step: bStep });
txt(svg, ['Other', 'Signaling'], mapX(38), mapY(855), bSize, { step: bStep, anchor: 'start' });
txt(svg, 'Insulin Signaling', mapX(912), mapY(898), bSize);

// FDR colour bars
const fdrGrad = svg.append('defs').append('linearGradient').attr('id', 'fdrGrad');
fdrGrad.append('stop').attr('offset', '0%').attr('stop-color', '#eccdd2');
fdrGrad.append('stop').attr('offset', '100%').attr('stop-color', '#b41f26');
svg.append('rect').attr('x', mapX(1148)).attr('y', mapY(258)).attr('width', 80).attr('height', 13.3)
    .attr('fill', 'url(#fdrGrad)').attr('stroke', '#c8323a').attr('stroke-width', 0.8);
txt(svg, '0.05', mapX(1170), mapY(318), 7.8);
txt(svg, '0.01', mapX(1271), mapY(318), 7.8);
txt(svg, '<0.001', mapX(1365), mapY(318), 7.8);

// ---------- Panel C ----------
panelLetter('C', 6, 284);
txt(svg, 'Enrichment Plot:', 133, 284, 12.8, { bold: true });
txt(svg, 'Unfolded  Protein Response (Hallmark)', 18.3, 299.7, 12.4, { anchor: 'start' });
svg.append('line').attr('x1', 22.7).attr('x2', 243).attr('y1', 312.3).attr('y2', 312.3).attr('stroke', '#111').attr('stroke-width', 1.3);

const cX = d3.scaleLinear().domain([0, 100]).range([22.7, 243]);
const cY = d3.scaleLinear().domain([0, 0.35]).range([398.3, 319.3]);
const cGrid = svg.append('g').attr('stroke', '#e4e4e4').attr('stroke-width', 0.7);
d3.range(1, 8).forEach(i => {
    cGrid.append('line').attr('x1', cX(0)).attr('x2', cX(100)).attr('y1', cY(i * 0.05)).attr('y2', cY(i * 0.05)).attr('stroke-dasharray', '1.5,1.5');
});
esGridRanks.forEach(r => {
    cGrid.append('line').attr('x1', cX(r)).attr('x2', cX(r)).attr('y1', cY(0.35)).attr('y2', cY(0));
    cGrid.append('line').attr('x1', cX(r)).attr('x2', cX(r)).attr('y1', 400).attr('y2', 405);
});
svg.append('line').attr('x1', cX(0)).attr('x2', cX(100)).attr('y1', cY(0)).attr('y2', cY(0)).attr('stroke', '#aaa').attr('stroke-width', 0.9);
svg.append('path').datum(esValue)
    .attr('d', d3.line().x((d, i) => cX(esRank[i])).y(d => cY(d)))
    .attr('fill', 'none').attr('stroke', '#74b243').attr('stroke-width', 1.7);
txt(svg, ['NES 4.1', 'FDR <1E-5'], 68.3, 376, 13.2, { anchor: 'start', step: 14 });
txt(svg, '.35', 0, 321, 13, { anchor: 'start' });
txt(svg, '0.0', 0, 402, 13, { anchor: 'start' });
svg.append('g').selectAll('line').data(rugRanks).enter().append('line')
    .attr('x1', d => cX(d)).attr('x2', d => cX(d)).attr('y1', 405).attr('y2', 433.3)
    .attr('stroke', '#000').attr('stroke-opacity', 0.48).attr('stroke-width', 1.6);
const rankGrad = svg.select('defs').append('linearGradient').attr('id', 'rankGrad');
rankStops.forEach((s, i) => rankGrad.append('stop').attr('offset', `${s}%`).attr('stop-color', rankColors[i]));
svg.append('rect').attr('x', cX(0)).attr('y', 433.3).attr('width', cX(100) - cX(0)).attr('height', 6.7).attr('fill', 'url(#rankGrad)');

// ---------- Panel D ----------
const detailY = d3.scaleLinear().domain([0, 450]).range([300, 450]);
svg.append('rect').attr('x', mapX(25)).attr('y', detailY(52)).attr('width', mapX(1407) - mapX(25)).attr('height', detailY(418) - detailY(52))
    .attr('fill', '#fff').attr('stroke', '#222').attr('stroke-width', 1.3);
panelLetter('D', mapX(49), detailY(112));
txt(svg, 'Cell Stress, Unfolded Protein Response', mapX(588), detailY(79), 12.3, { bold: true, underline: true, color: '#000' });
svg.append('line').attr('x1', mapX(605)).attr('y1', detailY(232)).attr('x2', mapX(625)).attr('y2', detailY(222)).attr('stroke', '#72b23e').attr('stroke-width', 2.4);
svg.append('g').selectAll('circle').data(nodesDetail).enter().append('circle')
    .attr('cx', d => mapX(d[0])).attr('cy', d => detailY(d[1])).attr('r', d => mapR(d[2]))
    .attr('fill', RED).attr('stroke', '#bdb8b8').attr('stroke-width', 1.1);
svg.append('g').selectAll('line').data(detailLeaders).enter().append('line')
    .attr('x1', d => mapX(d[0])).attr('y1', d => detailY(d[1])).attr('x2', d => mapX(d[2])).attr('y2', d => detailY(d[3]))
    .attr('stroke', '#111').attr('stroke-width', 0.9);
const dSize = 11.2;
const dStep = 10.6;
txt(svg, ['Unfolded Protein Response', '(Hallmark)'], mapX(332), detailY(139), dSize, { step: dStep });
txt(svg, ['Unfolded Protein Response', '(Reactome)'], mapX(852), detailY(127), dSize, { step: dStep });
txt(svg, ['Cellular Response', 'to Stress', '(Reactome)'], mapX(273), detailY(224), dSize, { step: dStep });
txt(svg, ['PERK Reg. Gene', 'Expression (Reactome)'], mapX(880), detailY(218), dSize, { step: dStep });
txt(svg, ['Regulation of HSF1-mediated', 'Heat Shock Response (Reactome)'], mapX(520), detailY(324), dSize, { step: dStep });
txt(svg, ['Cellular Response to Heat Stress', '(Reactome)'], mapX(952), detailY(310), dSize, { step: dStep });
txt(svg, ['Node Size =', '# genes overlapped', 'Node Color = FDR'], mapX(1257), detailY(102), 8.7, { step: 10.5 });
svg.append('rect').attr('x', mapX(1130)).attr('y', detailY(187)).attr('width', 85).attr('height', 14.3)
    .attr('fill', 'url(#fdrGrad)').attr('stroke', '#c8323a').attr('stroke-width', 0.8);
txt(svg, '0.05', mapX(1153), detailY(252), 7.8);
txt(svg, '0.01', mapX(1262), detailY(252), 7.8);
txt(svg, '<0.001', mapX(1360), detailY(252), 7.8);

// ---------- Panels E and F ----------
function drawTsne(g, groups, x, y, box) {
    groups.forEach(({ pts, color }) => {
        g.append('g').selectAll('circle').data(pts).enter().append('circle')
            .attr('cx', d => x(d[0])).attr('cy', d => y(d[1])).attr('r', 2.6).attr('fill', color);
    });
    const xAxis = g.append('g').attr('transform', `translate(0,${box.bottom})`).call(d3.axisBottom(x).tickValues(tsneTicksX).tickSize(3.5).tickFormat(d => String(d).replace('-', '−')));
    const yAxis = g.append('g').attr('transform', `translate(${box.left},0)`).call(d3.axisLeft(y).tickValues(tsneTicksY).tickSize(3.5).tickFormat(d => String(d).replace('-', '−')));
    [xAxis, yAxis].forEach(a => {
        styleAxis(a, 1.1);
        a.selectAll('text').attr('font-size', 10.2).attr('font-family', 'Liberation Sans').style('fill', '#222');
    });
    txt(g, 'tSNE_1', box.labelX, box.labelY, 12);
    g.append('text').attr('transform', `translate(10,${box.labelY2}) rotate(-90)`).attr('text-anchor', 'middle').attr('dy', '.35em')
        .attr('font-size', 12).text('tSNE_2');
}

panelLetter('E', 6, 474);
const eX = d3.scaleLinear().domain([-40, 20]).range([55, 213.3]);
const eY = d3.scaleLinear().domain([-20, 30]).range([653.7, 480]);
const eBox = { left: 45.7, bottom: 676.7, labelX: 148, labelY: 701.5, labelY2: 584 };
const eG = svg.append('g');
drawTsne(eG, [
    { pts: [...wtAstro, ...wtAstroFill, ...wtOligo, ...wtOligoFill, ...wtInter, ...wtInterFill, ...wtOpc, ...wtOpcFill], color: '#111111' },
    { pts: [...koAstro, ...koAstroFill, ...koOligo, ...koOligoFill, ...koOpc], color: '#b9252b' }
], eX, eY, eBox);
// stretch axis lines to the ends seen in the plot
eG.append('line').attr('x1', 45.7).attr('x2', 249).attr('y1', 676.7).attr('y2', 676.7).attr('stroke', '#111').attr('stroke-width', 1.1);
eG.append('line').attr('x1', 45.7).attr('x2', 45.7).attr('y1', 474).attr('y2', 676.7).attr('stroke', '#111').attr('stroke-width', 1.1);
eLegend.forEach((name, i) => {
    const y = 488.3 + i * 17.7;
    svg.append('circle').attr('cx', 235).attr('cy', y).attr('r', 5.8).attr('fill', i ? '#b9252b' : '#111');
    txt(svg, name, 244.3, y, 14, { anchor: 'start', italic: i === 1 });
});

panelLetter('F', 7, 725);
const fX = d3.scaleLinear().domain([-40, 20]).range([56, 220]);
const fY = d3.scaleLinear().domain([-20, 30]).range([916.7, 736]);
const fBox = { left: 45.7, bottom: 940.7, labelX: 150.7, labelY: 965, labelY2: 844 };
const fG = svg.append('g');
const fColors = ['#d2c32f', '#6fb3d2', '#6650a0', '#363a94'];
drawTsne(fG, [
    { pts: [...wtAstro, ...wtAstroFill, ...koAstro, ...koAstroFill], color: fColors[0] },
    { pts: [...wtOligo, ...wtOligoFill, ...koOligo, ...koOligoFill], color: fColors[1] },
    { pts: [...wtInter, ...wtInterFill], color: fColors[2] },
    { pts: [...wtOpc, ...wtOpcFill, ...koOpc], color: fColors[3] }
], fX, fY, fBox);
fG.append('line').attr('x1', 45.7).attr('x2', 256.7).attr('y1', 940.7).attr('y2', 940.7).attr('stroke', '#111').attr('stroke-width', 1.1);
fG.append('line').attr('x1', 45.7).attr('x2', 45.7).attr('y1', 730).attr('y2', 940.7).attr('stroke', '#111').attr('stroke-width', 1.1);
txt(svg, 'Nascent', 290, 733, 14, { underline: true });
svg.append('rect').attr('x', 226).attr('y', 742.7).attr('width', 131).attr('height', 36.6).attr('fill', 'none').attr('stroke', '#555').attr('stroke-width', 0.9);
const fLegendY = [752.7, 770, 790, 807];
fLegend.forEach((name, i) => {
    svg.append('circle').attr('cx', 234.7).attr('cy', fLegendY[i]).attr('r', 5.8).attr('fill', fColors[i]);
    txt(svg, name, 245, fLegendY[i], 13.9, { anchor: 'start' });
});

// ---------- Panel G ----------
panelLetter('G', 397, 475);
svg.append('rect').attr('x', 394.3).attr('y', 498.3).attr('width', 316.4).attr('height', 39).attr('rx', 10).attr('fill', RED);
const g1 = svg.append('text').attr('x', 557.3).attr('y', 511).attr('dy', '.35em').attr('text-anchor', 'middle').attr('font-size', 13.1).attr('font-weight', 'bold').attr('letter-spacing', 0.2).style('fill', '#fff');
g1.append('tspan').attr('font-style', 'italic').text('jimpy');
g1.append('tspan').text('-enriched transcriptional programs');
svg.append('text').attr('x', 559).attr('y', 525.7).attr('dy', '.35em').attr('text-anchor', 'middle').attr('font-size', 13.1).attr('font-weight', 'bold').attr('letter-spacing', 0.2).style('fill', '#fff').text('vs. wild-type by cell type');

const hX = d3.scaleBand().domain(cellTypes).range([662.7, 716]);
const hY = d3.scaleBand().domain(programs).range([541.7, 773.5]);
const hFill = d3.scaleOrdinal().domain(d3.range(pLabels.length)).range(pColors);
programs.forEach((prog, r) => {
    cellTypes.forEach((cell, c) => {
        svg.append('rect').attr('x', hX(cell)).attr('y', hY(prog)).attr('width', hX.bandwidth()).attr('height', hY.bandwidth())
            .attr('fill', hFill(pLevels[r][c])).attr('stroke', '#6e6a68').attr('stroke-opacity', 0.55).attr('stroke-width', 0.7);
    });
});
const hAxisY = svg.append('g').attr('transform', 'translate(661.3,0)').call(d3.axisLeft(hY).tickSize(2.5));
styleAxis(hAxisY, 1);
hAxisY.select('.domain').attr('stroke-width', 1.6);
hAxisY.selectAll('text').attr('font-size', 11.9).attr('font-family', 'Liberation Sans').attr('dx', 1).style('fill', '#1a1a1a');
svg.append('line').attr('x1', 660.5).attr('x2', 717).attr('y1', 773.8).attr('y2', 773.8).attr('stroke', '#222').attr('stroke-width', 1.6);
cellTypes.forEach(cell => {
    const cx = hX(cell) + hX.bandwidth() / 2;
    svg.append('text').attr('transform', `translate(${cx},780) rotate(-90)`).attr('text-anchor', 'end').attr('dy', '.35em')
        .attr('font-size', 14).text(cell);
});

svg.append('rect').attr('x', 524.7).attr('y', 776).attr('width', 133.6).attr('height', 118.3).attr('fill', '#fff').attr('stroke', '#aaa').attr('stroke-width', 0.9);
svg.append('text').attr('transform', 'translate(537.7,835) rotate(-90)').attr('text-anchor', 'middle').attr('dy', '.35em')
    .attr('font-size', 12.8).attr('font-weight', 'bold').text('p-value');
const legendY = d3.scalePoint().domain(pLabels).range([786, 884.3]);
pLabels.forEach((label, i) => {
    svg.append('rect').attr('x', 549.3).attr('y', legendY(label) - 4.7).attr('width', 9.4).attr('height', 9.4)
        .attr('fill', hFill(i)).attr('stroke', '#777').attr('stroke-width', 0.8);
    txt(svg, label, 577.7, legendY(label), 13.2, { anchor: 'start' });
});
</script>
</body>
</html>
